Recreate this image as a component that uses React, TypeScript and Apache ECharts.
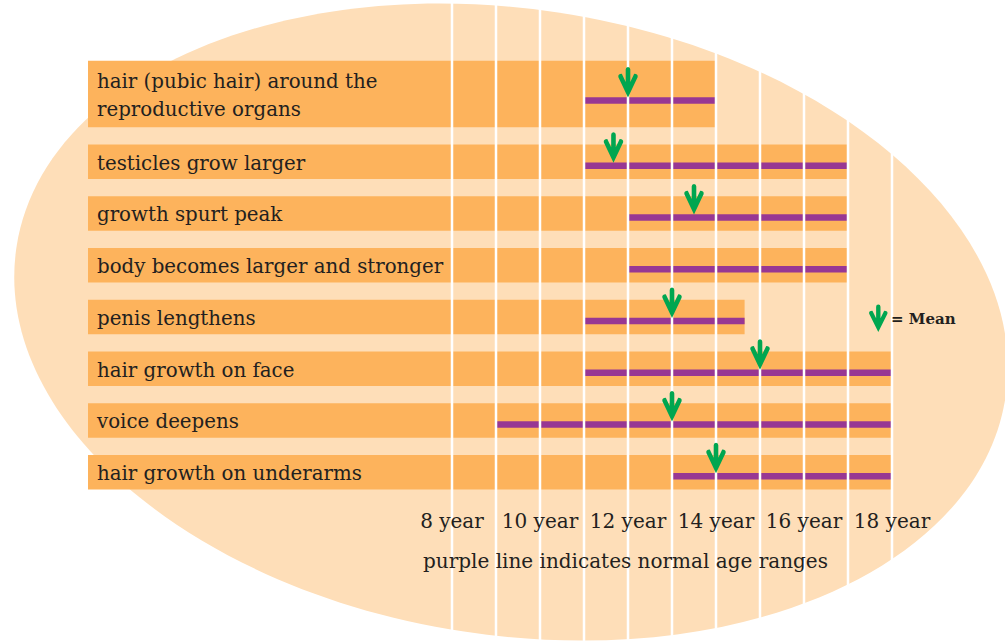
import React, { useEffect, useRef } from "react";
import * as echarts from "echarts";

// ---- data ----
const CATEGORIES = [
  "hair (pubic hair) around the\nreproductive organs",
  "testicles grow larger",
  "growth spurt peak",
  "body becomes larger and stronger",
  "penis lengthens",
  "hair growth on face",
  "voice deepens",
  "hair growth on underarms",
];
const RANGE_START = [11, 11, 12, 12, 11, 11, 9, 13];
const RANGE_END = [14, 17, 17, 17, 14.65, 18, 18, 18];
const MEAN_AGE: (number | null)[] = [12, 11.67, 13.5, null, 13, 15, 13, 14];
const AGE_TICKS = [8, 10, 12, 14, 16, 18];
const YEAR_LINES = [8, 9, 10, 11, 12, 13, 14, 15, 16, 17, 18];
const NOTE = "purple line indicates normal age ranges";
const LEGEND_TEXT = "= Mean";

// ---- style ----
const PEACH = "#FEDEB8";
const ORANGE = "#FDB35C";
const PURPLE = "#983793";
const GREEN = "#00A650";
const TEXT = "#231F20";
const FONT = '"DejaVu Serif", serif';
const LABEL_LEFT = 88;

const ARROW_PATH =
  "M0 0 L-9.6 -20.2 Q-10.4 -23.4 -6.2 -23.6 L-2.3 -15.3 L-2.3 -28 Q-2.3 -30.5 0 -30.5 Q2.3 -30.5 2.3 -28 L2.3 -15.3 L6.2 -23.6 Q10.4 -23.4 9.6 -20.2 Z";

let registered = false;
function ensureShape() {
  if (registered) return;
  registered = true;
  echarts.graphic.registerShape("meanArrow", echarts.graphic.extendPath(ARROW_PATH, {}) as any);
}

function rowGeom(idx: number, yc: number) {
  const lines = CATEGORIES[idx].split("\n").length;
  const bottom = yc + 17.25;
  const height = 34.5 + 32 * (lines - 1);
  const top = bottom - height;
  const center = top + height / 2;
  const purpleY = center + 4 + 2.5 * (lines - 1);
  return { top, bottom, height, center, purpleY };
}

export default function App() {
  const ref = useRef<HTMLDivElement>(null);
  useEffect(() => {
    if (!ref.current) return;
    ensureShape();
    const chart = echarts.init(ref.current, null, { renderer: "svg" });
    const option: any = {
      animation: false,
      backgroundColor: "#ffffff",
      grid: { left: 452, right: 113, top: 84, bottom: 143 },
      xAxis: {
        type: "value",
        min: AGE_TICKS[0],
        max: AGE_TICKS[AGE_TICKS.length - 1],
        interval: 2,
        z: 10,
        axisLine: { show: false },
        axisTick: { show: false },
        splitLine: { show: false },
        axisLabel: {
          formatter: "{value} year",
          fontSize: 20,
          fontFamily: FONT,
          color: TEXT,
          margin: 13,
        },
      },
      yAxis: {
        type: "category",
        data: CATEGORIES,
        inverse: true,
        show: false,
      },
      graphic: [
        {
          type: "ellipse",
          x: 511,
          y: 322,
          rotation: -0.151,
          shape: { cx: 0, cy: 0, rx: 500, ry: 313 },
          style: { fill: PEACH },
          z: 0,
          silent: true,
        },
        {
          type: "text",
          x: 423,
          y: 560.5,
          z: 10,
          style: {
            text: NOTE,
            font: `20px ${FONT}`,
            fill: TEXT,
            textVerticalAlign: "middle",
            verticalAlign: "middle",
          },
        },
        {
          type: "meanArrow",
          x: 878.3,
          y: 332,
          scaleX: 0.95,
          scaleY: 0.9,
          z: 10,
          style: { fill: GREEN },
        },
        {
          type: "text",
          x: 891,
          y: 319,
          z: 10,
          style: {
            text: LEGEND_TEXT,
            font: `bold 15px ${FONT}`,
            fill: TEXT,
            textVerticalAlign: "middle",
            verticalAlign: "middle",
          },
        },
      ],
      series: [
        {
          type: "custom",
          name: "bars",
          clip: false,
          silent: true,
          z: 2,
          encode: { x: [0, 1], y: 2 },
          data: CATEGORIES.map((_, i) => [RANGE_START[i], RANGE_END[i], i]),
          renderItem: (params: any, api: any) => {
            const idx = api.value(2);
            const pEnd = api.coord([api.value(1), idx]);
            const pStart = api.coord([api.value(0), idx]);
            const g = rowGeom(idx, pEnd[1]);
            return {
              type: "group",
              children: [
                {
                  type: "rect",
                  shape: { x: LABEL_LEFT, y: g.top, width: pEnd[0] - LABEL_LEFT, height: g.height },
                  style: { fill: ORANGE },
                },
                {
                  type: "rect",
                  shape: { x: pStart[0], y: g.purpleY - 3.25, width: pEnd[0] - pStart[0], height: 6.5 },
                  style: { fill: PURPLE },
                },
                {
                  type: "text",
                  x: 97,
                  y: g.center + 1.5,
                  style: {
                    text: CATEGORIES[idx],
                    fill: TEXT,
                    fontSize: 19.8,
                    fontFamily: FONT,
                    lineHeight: 28,
                    align: "left",
                    verticalAlign: "middle",
                  },
                },
              ],
            };
          },
        },
        {
          type: "custom",
          name: "year lines",
          clip: false,
          silent: true,
          z: 3,
          encode: { x: 0 },
          data: YEAR_LINES.map((v) => [v]),
          renderItem: (params: any, api: any) => {
            const x = api.coord([api.value(0), 0])[0];
            return {
              type: "line",
              shape: { x1: x, y1: 0, x2: x, y2: 641 },
              style: { stroke: "#ffffff", lineWidth: 2.5 },
            };
          },
        },
        {
          type: "custom",
          name: "mean",
          clip: false,
          silent: true,
          z: 4,
          encode: { x: 0, y: 1 },
          data: MEAN_AGE.map((m, i) => (m == null ? null : [m, i])).filter((d) => d != null),
          renderItem: (params: any, api: any) => {
            const idx = api.value(1);
            const p = api.coord([api.value(0), idx]);
            const g = rowGeom(idx, p[1]);
            return {
              type: "path",
              x: p[0],
              y: g.purpleY - 3,
              shape: { pathData: ARROW_PATH },
              style: { fill: GREEN },
            };
          },
        },
      ],
    };
    chart.setOption(option);
    return () => chart.dispose();
  }, []);
  return (
    <div
      ref={ref}
      style={{ position: "fixed", left: 0, top: 0, width: 1005, height: 641, background: "#fff" }}
    />
  );
}
